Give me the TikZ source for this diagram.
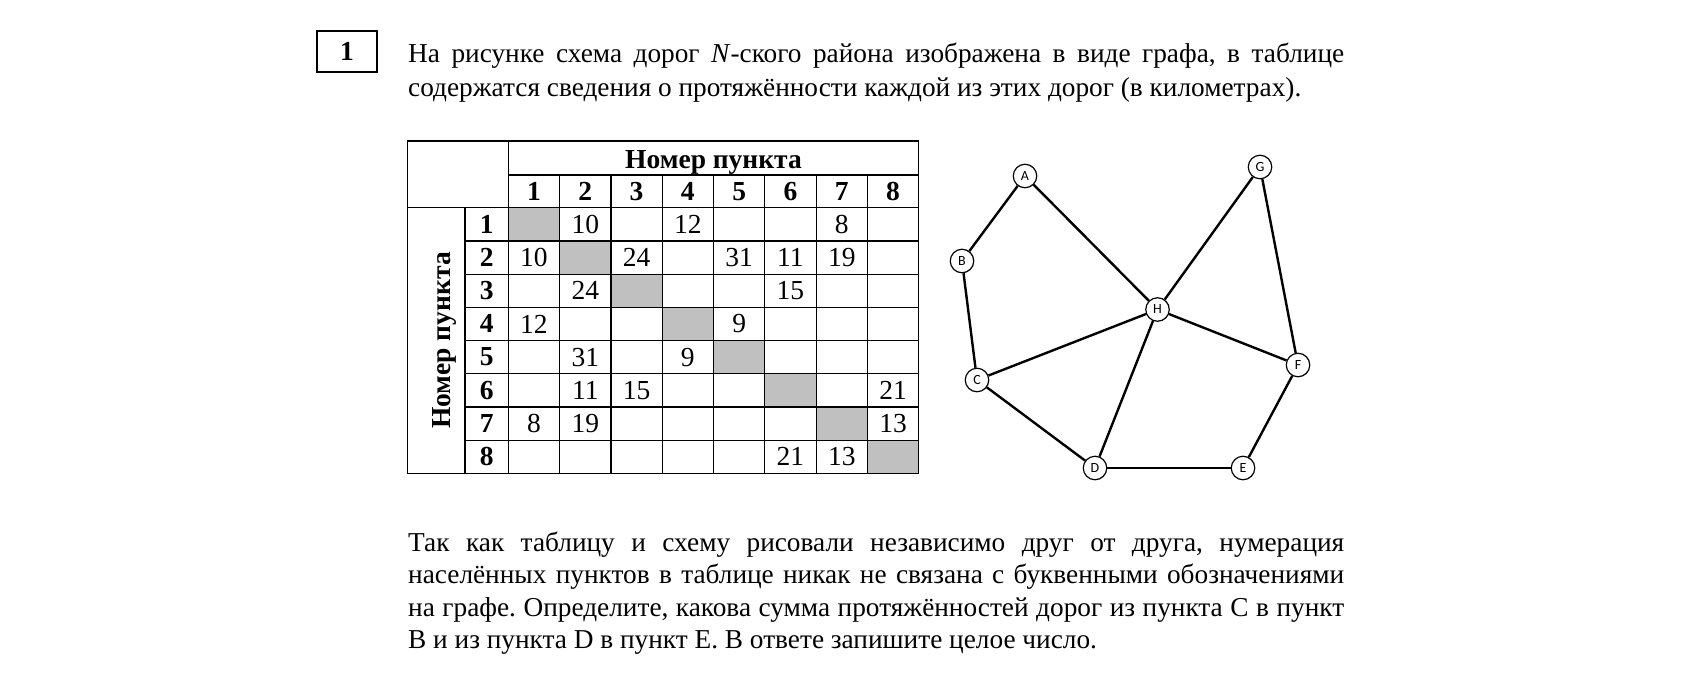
\documentclass[tikz,border=0pt]{standalone}
\usepackage{fontspec}
\setmainfont{Liberation Serif}
\newfontfamily\graphfont{Carlito}
\frenchspacing
\begin{document}
\begin{tikzpicture}[x=1pt,y=-1pt,
  txt/.style={anchor=base west, inner sep=0pt, font=\fontsize{27.3}{32}\selectfont},
  cell/.style={inner sep=0pt, font=\fontsize{27.5}{32}\selectfont},
  hcell/.style={inner sep=0pt, font=\fontsize{27.5}{32}\selectfont\bfseries},
  vtx/.style={circle, draw, line width=1.2pt, minimum size=23.5pt, inner sep=0pt, fill=white, font=\graphfont\fontsize{14}{14}\selectfont},
  road/.style={line width=2.4pt},
  gridline/.style={line width=1.2pt},
  diag/.style={fill={rgb,255:red,192;green,192;blue,192}, draw=none}
]
\useasboundingbox[fill=white] (0,0) rectangle (1683,696);

% task number box
\draw[line width=1.3pt] (317,31) rectangle (377,72);
\node[hcell] (num) at (347,51.5) {1};

% top paragraph
\node[txt] (t1) at (408,62) {\makebox[936pt][s]{На рисунке схема дорог \textit{N}-ского района изображена в виде графа, в таблице}};
\node[txt] (t2) at (408,96) {содержатся сведения о протяжённости каждой из этих дорог (в километрах).};

% table
\def\XA{407.5}\def\XB{465}\def\XC{508.3}\def\CW{51.3}
\def\YA{141}\def\YB{175}\def\YC{207.7}\def\RH{33.2}
\foreach \i in {1,...,8}{
  \fill[diag] ({\XC+(\i-1)*\CW},{\YC+(\i-1)*\RH}) rectangle ({\XC+\i*\CW},{\YC+\i*\RH});
}
\draw[gridline] (\XA,\YA) rectangle ({\XC+8*\CW},{\YC+8*\RH});
\draw[gridline] (\XC,\YB) -- ({\XC+8*\CW},\YB);
\draw[gridline] (\XA,\YC) -- ({\XC+8*\CW},\YC);
\foreach \k in {1,...,7}{
  \draw[gridline] (\XB,{\YC+\k*\RH}) -- ({\XC+8*\CW},{\YC+\k*\RH});
  \draw[gridline] ({\XC+\k*\CW},\YB) -- ({\XC+\k*\CW},{\YC+8*\RH});
}
\draw[gridline] (\XB,\YC) -- (\XB,{\YC+8*\RH});
\draw[gridline] (\XC,\YA) -- (\XC,{\YC+8*\RH});

\node[hcell, anchor=base] (colhead) at (713.5,168.5) {Номер пункта};
\node[hcell, anchor=base, rotate=90] (rowhead) at (450,340.5) {Номер пункта};
\foreach \k in {1,...,8}{
  \node[hcell] (c\k) at ({\XC+(\k-0.5)*\CW},191.3) {\k};
  \node[hcell] (r\k) at (486.7,{\YC+(\k-0.5)*\RH}) {\k};
}
\foreach \i/\j/\v in {1/2/10,1/4/12,1/7/8,
  2/1/10,2/3/24,2/5/31,2/6/11,2/7/19,
  3/2/24,3/6/15,
  4/1/12,4/5/9,
  5/2/31,5/4/9,
  6/2/11,6/3/15,6/8/21,
  7/1/8,7/2/19,7/8/13,
  8/6/21,8/7/13}{
  \node[cell] (v\i-\j) at ({\XC+(\j-0.5)*\CW},{\YC+(\i-0.5)*\RH}) {\v};
}

% graph
\node[vtx] (A) at (1025,176) {A};
\node[vtx] (G) at (1260,167) {G};
\node[vtx] (B) at (962,261) {B};
\node[vtx] (H) at (1157.5,309.5) {H};
\node[vtx] (C) at (977,380) {C};
\node[vtx] (F) at (1298,365) {F};
\node[vtx] (D) at (1095,468) {D};
\node[vtx] (E) at (1243,468) {E};
\draw[road] (A) -- (B);
\draw[road] (A) -- (H);
\draw[road] (B) -- (C);
\draw[road] (C) -- (H);
\draw[road] (C) -- (D);
\draw[road] (D) -- (H);
\draw[road] (D) -- (E);
\draw[road] (E) -- (F);
\draw[road] (F) -- (H);
\draw[road] (F) -- (G);
\draw[road] (G) -- (H);

% bottom paragraph
\node[txt] (b1) at (408,551) {\makebox[936pt][s]{Так как таблицу и схему рисовали независимо друг от друга, нумерация}};
\node[txt] (b2) at (408,583.5) {\makebox[936pt][s]{населённых пунктов в таблице никак не связана с буквенными обозначениями}};
\node[txt] (b3) at (408,616) {\makebox[936pt][s]{на графе. Определите, какова сумма протяжённостей дорог из пункта C в пункт}};
\node[txt] (b4) at (408,648.5) {B и из пункта D в пункт E. В ответе запишите целое число.};
\end{tikzpicture}
\end{document}
